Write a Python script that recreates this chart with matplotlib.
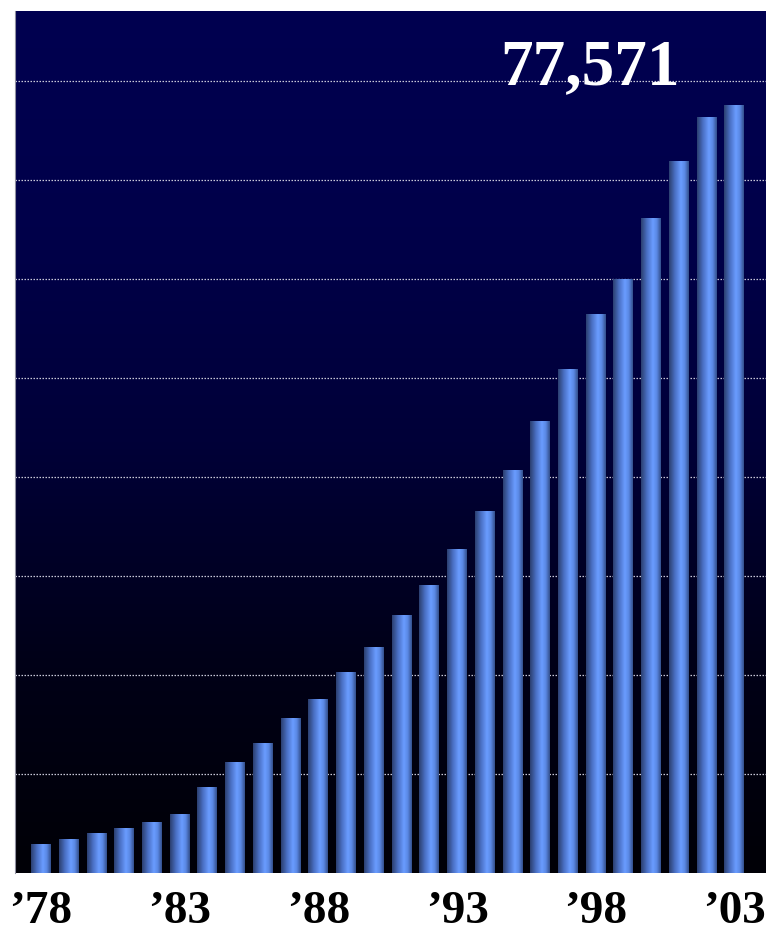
import numpy as np
import matplotlib
matplotlib.use("Agg")
import matplotlib.pyplot as plt
from matplotlib.colors import LinearSegmentedColormap
from matplotlib.patches import Rectangle

years = list(range(1978, 2004))
values = [2900, 3400, 4000, 4550, 5150, 5950, 8700, 11200, 13100, 15650,
          17550, 20300, 22800, 26050, 29100, 32700, 36550, 40700, 45650, 50900,
          56450, 60000, 66150, 71900, 76350, 77571]
tick_years = [1978, 1983, 1988, 1993, 1998, 2003]
tick_labels = ["\u201978", "\u201983", "\u201988", "\u201993", "\u201998", "\u201903"]
annotation = "77,571"
grid_values = [10000, 20000, 30000, 40000, 50000, 60000, 70000, 80000]

W, H, DPI = 766, 936, 100
fig = plt.figure(figsize=(W / DPI, H / DPI), dpi=DPI, facecolor="white")
# plot area: x 15..766, y 11..873 (pixels from top)
ax = fig.add_axes([15 / W, 1 - 873 / H, (766 - 15) / W, (873 - 11) / H])

x = np.arange(len(years))
xmin, xmax = -0.94, 26.14
ymax = 862 * 101
ax.set_xlim(xmin, xmax)
ax.set_ylim(0, ymax)

# background gradient
bg = LinearSegmentedColormap.from_list(
    "bg", [(0.0, "#000006"), (0.25, "#000018"), (0.5, "#000038"), (0.75, "#00004a"), (1.0, "#000050")])
grad = np.linspace(0, 1, 256).reshape(-1, 1)
ax.imshow(grad, cmap=bg, aspect="auto", origin="lower",
          extent=[xmin, xmax, 0, ymax], zorder=0)

# gridlines
for g in grid_values:
    ax.axhline(g, color="#c8c8d8", lw=0.9, ls=(0, (1.2, 1.2)), zorder=1)

# bars with horizontal gradient
bar_cmap = LinearSegmentedColormap.from_list(
    "bar", [(0.0, "#2b3f70"), (0.3, "#4a70c4"), (0.6, "#6a9cff"), (0.8, "#5a88e4"), (1.0, "#34508c")])
hgrad = np.linspace(0, 1, 64).reshape(1, -1)
bw = 0.72
bars = ax.bar(x, values, width=bw, color="none", zorder=2)
for b in bars:
    x0, w, h = b.get_x(), b.get_width(), b.get_height()
    im = ax.imshow(hgrad, cmap=bar_cmap, aspect="auto",
                   extent=[x0, x0 + w, 0, h], zorder=2, interpolation="bilinear")
    im.set_clip_path(Rectangle((x0, 0), w, h, transform=ax.transData))

ax.set_xlim(xmin, xmax)
ax.set_ylim(0, ymax)

ax.set_xticks([years.index(t) for t in tick_years])
ax.set_xticklabels(tick_labels, fontfamily="Liberation Serif", fontweight="bold",
                   fontsize=34, color="black")
ax.tick_params(axis="x", length=0, pad=13)
ax.set_yticks([])
for s in ["top", "right", "bottom"]:
    ax.spines[s].set_visible(False)
ax.spines["left"].set_color("#9090a0")
ax.spines["left"].set_linewidth(0.8)

ax.text(x[-1] - 5.2, 81300, annotation, fontfamily="Liberation Serif", fontweight="bold",
        fontsize=47, color="white", ha="center", va="center", zorder=3)

fig.savefig("out.png", dpi=DPI, facecolor="white")
